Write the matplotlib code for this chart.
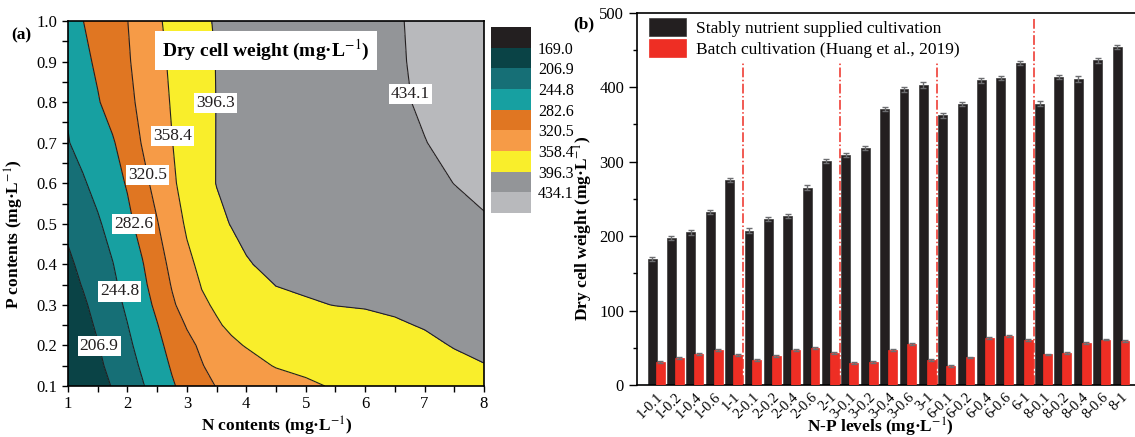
import numpy as np
import matplotlib
matplotlib.use("Agg")
import matplotlib.pyplot as plt
from matplotlib.ticker import MultipleLocator

plt.rcParams['font.family'] = ['Liberation Serif', 'DejaVu Serif']
plt.rcParams['mathtext.fontset'] = 'stix'

# ---- panel (a): response surface ----
n_grid = [1, 1.25, 1.5, 1.75, 2, 2.25, 2.5, 2.75, 3, 3.25, 3.5, 3.75, 4,
          4.5, 5, 5.5, 6, 6.5, 7, 7.5, 8]
p_grid = [0.1, 0.15, 0.2, 0.25, 0.3, 0.35, 0.4, 0.5, 0.6, 0.7, 0.8, 0.9, 1.0]
dcw_grid = [
    [175.0, 185.9, 196.9, 208.3, 225.2, 242.1, 260.4, 278.9, 294.4, 309.2, 321.8, 327.1, 332.3, 342.8, 353.3, 361.2, 366.6, 372.0, 377.3, 382.7, 388.0],
    [178.0, 189.5, 201.0, 215.0, 231.9, 249.2, 267.8, 285.9, 302.2, 318.5, 333.0, 340.7, 346.8, 360.3, 365.5, 370.1, 374.6, 379.2, 384.2, 390.4, 395.6],
    [181.0, 193.2, 205.5, 221.5, 238.2, 255.9, 274.4, 292.8, 311.0, 326.4, 341.0, 353.0, 360.0, 369.9, 375.1, 379.1, 382.6, 386.4, 391.2, 397.5, 400.9],
    [184.0, 197.0, 210.9, 227.5, 244.1, 262.6, 281.1, 302.4, 323.0, 338.5, 355.0, 363.9, 369.0, 379.5, 384.8, 388.1, 390.5, 393.7, 397.8, 402.7, 406.0],
    [188.0, 201.9, 217.2, 233.2, 250.1, 269.0, 289.8, 315.4, 335.1, 353.3, 362.5, 371.7, 377.9, 389.0, 394.4, 396.7, 397.8, 400.1, 403.5, 407.9, 411.1],
    [195.0, 208.7, 223.8, 238.8, 256.1, 275.0, 298.0, 322.9, 342.6, 360.0, 369.0, 378.0, 385.5, 396.9, 399.0, 401.1, 403.3, 406.0, 409.3, 413.0, 416.2],
    [200.6, 214.9, 229.3, 243.6, 262.2, 280.4, 305.1, 329.3, 351.3, 365.2, 376.0, 386.0, 395.4, 399.3, 402.4, 405.6, 408.7, 411.9, 415.0, 418.2, 421.3],
    [214.0, 227.3, 240.6, 256.7, 274.2, 294.9, 318.6, 342.3, 362.7, 376.3, 389.8, 397.4, 399.4, 403.5, 407.6, 411.7, 415.7, 419.8, 423.9, 428.0, 432.0],
    [229.0, 241.2, 254.8, 269.6, 285.5, 309.8, 332.3, 353.3, 370.2, 385.7, 397.0, 399.4, 401.7, 406.3, 411.0, 415.6, 420.2, 424.8, 429.5, 434.3, 438.7],
    [243.4, 255.3, 267.3, 279.2, 299.7, 322.6, 340.2, 357.7, 371.8, 385.7, 396.9, 399.5, 402.2, 407.4, 412.6, 417.9, 423.1, 428.3, 433.6, 438.8, 444.0],
    [247.9, 264.0, 280.0, 296.1, 312.1, 328.5, 345.1, 360.9, 373.4, 385.8, 396.8, 399.6, 402.5, 408.2, 413.9, 419.6, 425.2, 430.9, 436.6, 442.3, 448.0],
    [259.6, 274.0, 288.3, 302.7, 317.0, 332.9, 349.2, 363.7, 375.7, 387.7, 397.1, 400.0, 402.9, 408.7, 414.5, 420.3, 426.1, 431.8, 437.6, 443.3, 449.1],
    [269.5, 282.1, 294.7, 307.3, 320.0, 336.7, 353.7, 367.4, 379.9, 392.3, 398.2, 401.1, 403.9, 409.6, 415.3, 421.0, 426.6, 432.3, 438.0, 443.6, 449.3],
]
levels = [169.0, 206.9, 244.8, 282.6, 320.5, 358.4, 396.3, 434.1]
level_colors = ['#231f20', '#0a4346', '#166f76', '#17a0a1', '#e07622',
                '#f69b47', '#f9ee2b', '#939598', '#b8b9bc']
# where the printed labels sit on each line (N, P)
label_spots = [(1.50, 0.198), (1.86, 0.333), (2.11, 0.50), (2.33, 0.62),
               (2.76, 0.717), (3.44, 0.797), (6.76, 0.821)]

# ---- panel (b): bar data ----
np_levels = ['1-0.1', '1-0.2', '1-0.4', '1-0.6', '1-1',
             '2-0.1', '2-0.2', '2-0.4', '2-0.6', '2-1',
             '3-0.1', '3-0.2', '3-0.4', '3-0.6', '3-1',
             '6-0.1', '6-0.2', '6-0.4', '6-0.6', '6-1',
             '8-0.1', '8-0.2', '8-0.4', '8-0.6', '8-1']
stable_dcw = [169, 197, 205, 232, 275, 207, 223, 227, 265, 301,
              309, 318, 371, 397, 403, 362, 377, 409, 412, 432,
              378, 414, 411, 436, 454]
stable_err = [3, 2.5, 3.5, 3, 3, 3.5, 3, 2.5, 3.5, 3,
              3, 3, 2.5, 3.5, 3.5, 3, 3, 3, 3, 2.5,
              3.5, 2.5, 3.5, 3, 2.5]
batch_dcw = [31, 36, 42, 47, 40, 34, 39, 47, 50, 43,
             30, 31, 47, 55, 34, 26, 37, 63, 66, 60,
             41, 43, 56, 61, 59]
batch_err = [1.2] * 25
separators = [4.5, 9.5, 14.5, 19.5]
separator_tops = [432, 432, 432, 494]

fig = plt.figure(figsize=(11.35, 4.37), dpi=100)

# ================= (a) =================
ax1 = fig.add_axes([0.0599, 0.1167, 0.3665, 0.8352])
Z = np.array(dcw_grid)
fill_levels = [100] + levels + [500]
cf = ax1.contourf(n_grid, p_grid, Z, levels=fill_levels, colors=level_colors)
cs = ax1.contour(n_grid, p_grid, Z, levels=levels[1:], colors='#231f20',
                 linewidths=0.8)
texts = ax1.clabel(cs, fmt='%.1f', fontsize=12.5, inline=False,
                   manual=label_spots, colors='#231f20')
for t in texts:
    t.set_rotation(0)
    t.set_bbox(dict(facecolor='white', edgecolor='none', pad=1.5))

ax1.set_xlim(1, 8)
ax1.set_ylim(0.1, 1.0)
ax1.xaxis.set_major_locator(MultipleLocator(1))
ax1.xaxis.set_minor_locator(MultipleLocator(0.5))
ax1.yaxis.set_major_locator(MultipleLocator(0.1))
ax1.yaxis.set_minor_locator(MultipleLocator(0.05))
ax1.tick_params(which='both', direction='out', length=4, width=1,
                labelsize=12, top=False, right=False)
for sp in ax1.spines.values():
    sp.set_linewidth(1.2)
ax1.set_xlabel('N contents (mg\u00b7L$^{-1}$)', fontsize=12.5,
               fontweight='bold')
ax1.xaxis.set_label_coords(0.502, -0.079)
ax1.set_ylabel('P contents (mg\u00b7L$^{-1}$)', fontsize=12.5,
               fontweight='bold')
ax1.yaxis.set_label_coords(-0.100, 0.416)
ax1.text(0.476, 0.92, 'Dry cell weight (mg\u00b7L$^{-1}$)', transform=ax1.transAxes,
         ha='center', va='center', fontsize=14, fontweight='bold',
         bbox=dict(facecolor='white', edgecolor='none', pad=5))
fig.text(0.0095, 0.918, '(a)', fontsize=12.5, fontweight='bold', va='center')

cax = fig.add_axes([0.4326, 0.5126, 0.0352, 0.4256])
cb = fig.colorbar(cf, cax=cax, ticks=levels, spacing='uniform')
cb.outline.set_visible(False)
cax.invert_yaxis()
cax.tick_params(length=0, labelsize=11.5, pad=5)
cax.set_yticklabels(['%.1f' % v for v in levels])

# ================= (b) =================
ax2 = fig.add_axes([0.5615, 0.119, 0.4517, 0.852])
x = np.arange(len(np_levels))
w = 0.46
ax2.bar(x - 0.2, stable_dcw, w, color='#231f20', edgecolor='#3a3a3a',
        linewidth=0.5, yerr=stable_err, capsize=2.5,
        error_kw=dict(ecolor='#6d6e71', elinewidth=1, capthick=1),
        label='Stably nutrient supplied cultivation', zorder=2)
ax2.bar(x + 0.21, batch_dcw, w, color='#ee2e24', edgecolor='#ee2e24',
        linewidth=0.5, yerr=batch_err, capsize=2.5,
        error_kw=dict(ecolor='#6d6e71', elinewidth=1, capthick=1),
        label='Batch cultivation (Huang et al., 2019)', zorder=3)
for sx, top in zip(separators, separator_tops):
    ax2.plot([sx, sx], [0, top], color='#ee2e24', linestyle='-.',
             linewidth=1.1, zorder=1)

ax2.set_xlim(-0.965, 25.5)
ax2.set_ylim(0, 500)
ax2.yaxis.set_major_locator(MultipleLocator(100))
ax2.yaxis.set_minor_locator(MultipleLocator(50))
ax2.tick_params(axis='y', which='major', direction='out', length=6, width=1,
                labelsize=12)
ax2.tick_params(axis='y', which='minor', direction='out', length=3, width=1)
ax2.set_xticks(x)
ax2.set_xticklabels(np_levels, rotation=45, ha='right',
                    rotation_mode='anchor', fontsize=10.5)
ax2.tick_params(axis='x', length=0, pad=4)
ax2.spines['right'].set_visible(False)
for sp in ax2.spines.values():
    sp.set_linewidth(1.2)
ax2.set_xlabel('N-P levels (mg\u00b7L$^{-1}$)', fontsize=12.5,
               fontweight='bold')
ax2.xaxis.set_label_coords(0.475, -0.082)
ax2.set_ylabel('Dry cell weight (mg\u00b7L$^{-1}$)', fontsize=12.5,
               fontweight='bold')
ax2.yaxis.set_label_coords(-0.083, 0.42)
ax2.legend(loc='upper left', bbox_to_anchor=(0.006, 1.008), frameon=False,
           fontsize=12.5, handlelength=2.1, handleheight=1.15,
           labelspacing=0.15, borderpad=0, handletextpad=0.6)
fig.text(0.505, 0.945, '(b)', fontsize=12.5, fontweight='bold', va='center')

fig.savefig('out.png', dpi=100)
